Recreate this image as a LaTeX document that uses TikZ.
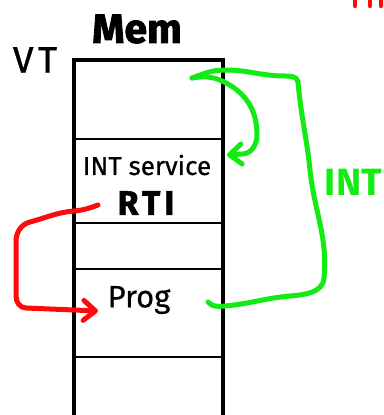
\documentclass[tikz,border=0pt]{standalone}
\usepackage{fontspec}
\setmainfont{Fira Sans}
\usetikzlibrary{arrows.meta}
\definecolor{penred}{RGB}{255,10,10}
\definecolor{pengreen}{RGB}{20,235,20}
\tikzset{
  frame/.style={line width=4.5pt, line join=miter},
  divider/.style={line width=2.5pt},
  redpen/.style={draw=penred, line width=5pt, line cap=round, line join=round},
  greenpen/.style={draw=pengreen, line width=5pt, line cap=round, line join=round},
  barb/.style={-{Straight Barb[length=12pt,width=20pt,line width=5pt, round]}},
  label/.style={inner sep=0pt, text=black}
}
\begin{document}
\begin{tikzpicture}[x=1pt, y=-1pt]
  \useasboundingbox (0,0) rectangle (383,415);
  \clip (0,0) rectangle (383,415);
  \fill[white] (0,0) rectangle (383,415);

  % memory column
  \draw[frame] (74,430) -- (74,60) -- (223,60) -- (223,430);
  \foreach \y in {139,223,269,357}
    \draw[divider] (74,\y) -- (223,\y);

  % labels
  \node[label, font=\bfseries\fontsize{41}{41}\selectfont\addfontfeature{FakeBold=2}] (mem) at (137,29) {Mem};
  \node[label, font=\fontsize{37}{37}\selectfont\addfontfeature{LetterSpace=12,FakeBold=1}] (vt) at (35,60) {VT};
  \node[label, font=\fontsize{26}{26}\selectfont\addfontfeature{FakeBold=0.6}] (service) at (147,165) {INT service};
  \node[label, font=\bfseries\fontsize{34}{34}\selectfont\addfontfeature{LetterSpace=12,FakeBold=1.5}] (rti) at (146,203) {RTI};
  \node[label, font=\fontsize{31}{31}\selectfont\addfontfeature{FakeBold=0.6}] (prog) at (139,300) {Prog};
  \node[label, anchor=east, text=pengreen, font=\bfseries\fontsize{38}{38}\selectfont] (intlbl) at (382,182) {INT};

  % red strokes at the top edge
  \foreach \x in {355,370,381}
    \draw[redpen, line width=4.5pt] (\x,-4) -- (\x,6);

  % connector endpoints
  \coordinate (rtiTail) at (98,205);
  \coordinate (progIn) at (98,311);
  \coordinate (progTail) at (208,302);
  \coordinate (vecPoint) at (192,78);
  \coordinate (serviceIn) at (227,155);

  % return path: RTI back into Prog
  \draw[redpen, barb] (rtiTail) to[out=200,in=5] (74,211)
        to[out=185,in=15] (30,222) to[out=195,in=90] (16,242)
        -- (16,296) to[out=-90,in=180] (26,308) -- (progIn);

  % interrupt: Prog out to the vector table, then into the service routine
  \draw[greenpen] (progTail) to[out=-50,in=185] (225,306)
        to[out=5,in=185] (290,296) to[out=5,in=-95] (324,278)
        to[out=85,in=-84] (310,170) to[out=96,in=-85] (298,82)
        to[out=95,in=0] (285,76) to[out=180,in=0] (225,70)
        to[out=180,in=20] (vecPoint);
  \draw[greenpen, barb] (vecPoint) to[out=10,in=150] (228,84)
        to[out=-30,in=90] (257,135) to[out=-90,in=0] (242,154) -- (serviceIn);
\end{tikzpicture}
\end{document}
